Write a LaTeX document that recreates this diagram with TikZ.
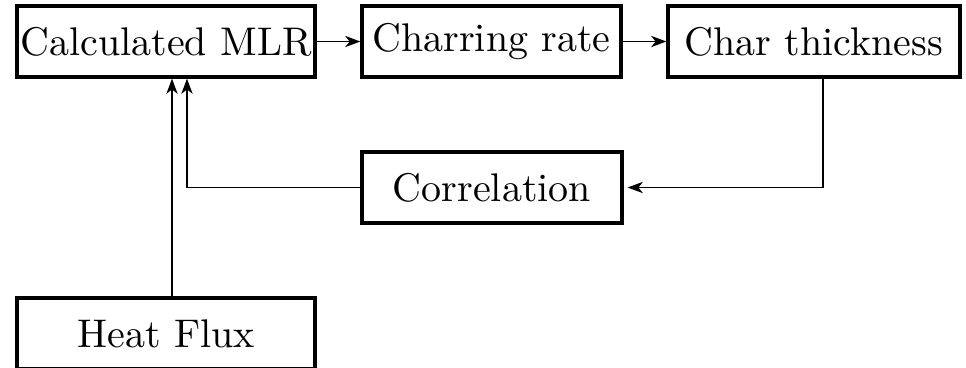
\documentclass[tikz,border=0pt]{standalone}
\usetikzlibrary{arrows.meta,calc}
\begin{document}
\begin{tikzpicture}[x=0.25pt,y=-0.25pt,
  box/.style={draw,line width=0.8pt,inner sep=0pt,minimum height=17.75pt,font=\fontsize{10}{12}\selectfont},
  conn/.style={line width=0.4pt,-{Stealth[length=3.8pt,width=2.8pt,inset=1.1pt]}}]
\useasboundingbox (0,0) rectangle (966,367);
\node[box,minimum width=74.5pt] (mlr) at (166,41.5) {Calculated MLR};
\node[box,minimum width=64.75pt] (rate) at (491.5,41.5) {Charring rate};
\node[box,minimum width=73pt] (thick) at (814,41.5) {Char thickness};
\node[box,minimum width=65pt] (corr) at (492,187.5) {Correlation};
\node[box,minimum width=74.5pt] (hf) at (166,333.5) {Heat Flux};
\coordinate (xa) at (172,0);
\coordinate (xb) at (187,0);
\coordinate (xc) at (823,0);
\draw[conn] (mlr.east) -- (rate.west);
\draw[conn] (rate.east) -- (thick.west);
\draw[conn,shorten >=1pt] (thick.south -| xc) |- (corr.east);
\draw[conn] (corr.west) -| (mlr.south -| xb);
\draw[conn] (hf.north -| xa) -- (mlr.south -| xa);
\end{tikzpicture}
\end{document}
